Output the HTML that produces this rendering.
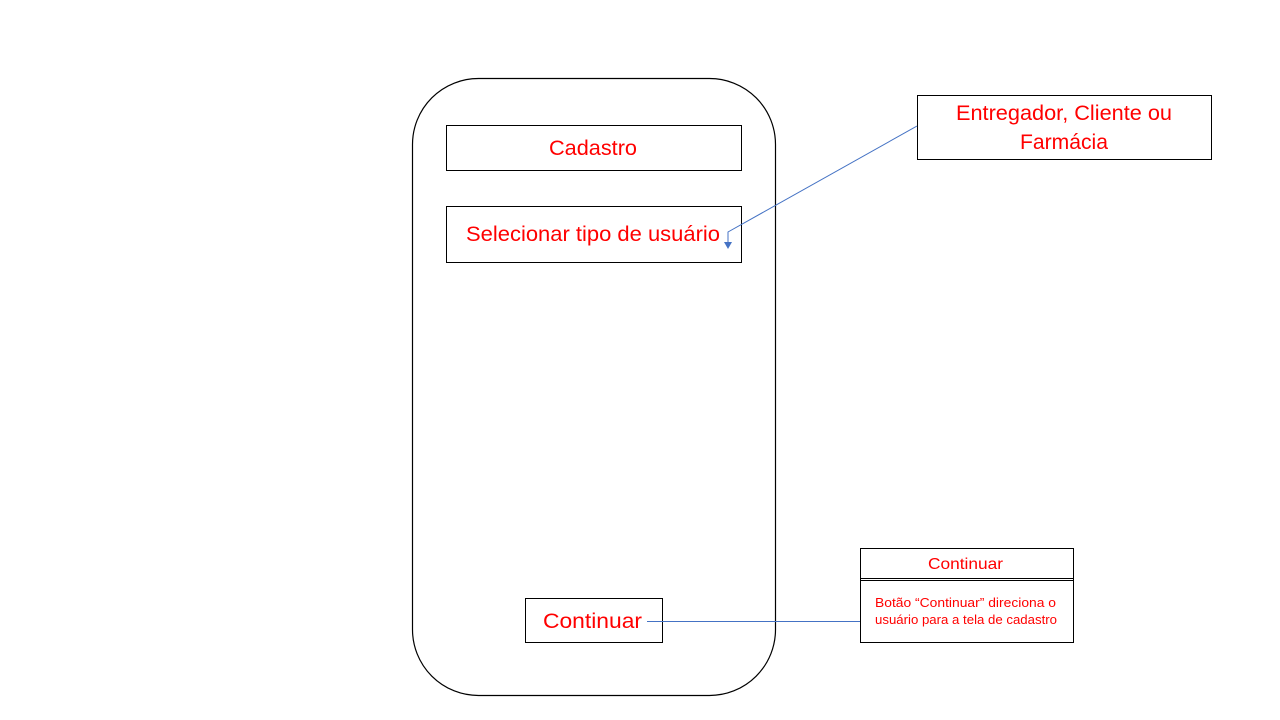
<!DOCTYPE html>
<html><head><meta charset="utf-8"><style>body{margin:0;background:#fff}svg{display:block}text{font-family:"Liberation Sans",sans-serif;fill:#ff0000}</style></head>
<body><svg width="1280" height="720" viewBox="0 0 1280 720" xmlns="http://www.w3.org/2000/svg">
<rect x="412.5" y="78.5" width="363" height="617" rx="66" fill="none" stroke="#000" stroke-width="1.2"/>
<rect x="446.5" y="125.5" width="295" height="45" fill="none" stroke="#000"/>
<text x="549" y="155" font-size="21" textLength="88" lengthAdjust="spacingAndGlyphs">Cadastro</text>
<rect x="446.5" y="206.5" width="295" height="56" fill="none" stroke="#000"/>
<text x="466" y="241" font-size="21" textLength="254" lengthAdjust="spacingAndGlyphs">Selecionar tipo de usuário</text>
<rect x="917.5" y="95.5" width="294" height="64" fill="none" stroke="#000"/>
<text x="956" y="120" font-size="21" textLength="216" lengthAdjust="spacingAndGlyphs">Entregador, Cliente ou</text>
<text x="1020" y="149" font-size="21" textLength="88" lengthAdjust="spacingAndGlyphs">Farmácia</text>
<polyline points="917,126 728,232 728,243" fill="none" stroke="#4472c4" stroke-width="1"/>
<polygon points="724,242 732,242 728,249" fill="#4472c4"/>
<rect x="525.5" y="598.5" width="137" height="44" fill="none" stroke="#000"/>
<text x="543" y="628" font-size="21" textLength="99" lengthAdjust="spacingAndGlyphs">Continuar</text>
<line x1="647" y1="621.5" x2="860" y2="621.5" stroke="#4472c4"/>
<rect x="860.5" y="548.5" width="213" height="94" fill="none" stroke="#000"/>
<line x1="860" y1="578.5" x2="1073" y2="578.5" stroke="#000"/>
<line x1="860" y1="580.5" x2="1073" y2="580.5" stroke="#000"/>
<text x="928" y="569" font-size="16" textLength="75" lengthAdjust="spacingAndGlyphs">Continuar</text>
<text x="875" y="607" font-size="13" textLength="181" lengthAdjust="spacingAndGlyphs">Botão “Continuar” direciona o</text>
<text x="875" y="624" font-size="13" textLength="182" lengthAdjust="spacingAndGlyphs">usuário para a tela de cadastro</text>
</svg></body></html>
